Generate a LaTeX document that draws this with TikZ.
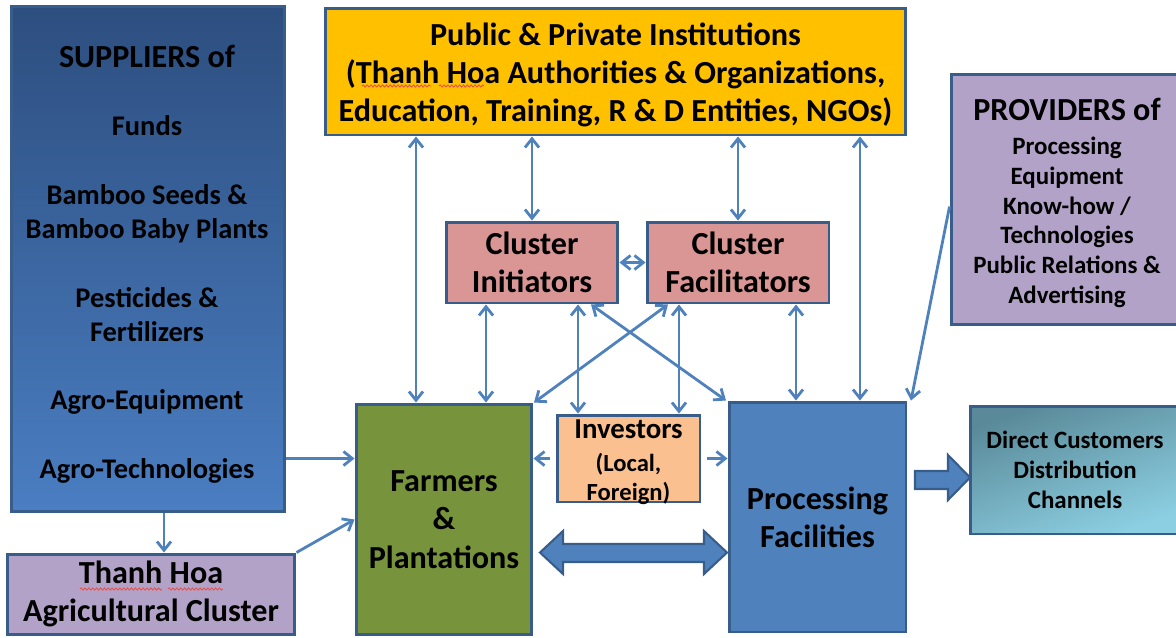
\documentclass[tikz,border=0pt]{standalone}
\usepackage{fontspec}
\setmainfont{Carlito}
\usetikzlibrary{arrows.meta,decorations.pathmorphing}
\definecolor{bord}{HTML}{385D8A}
\definecolor{arrowblue}{HTML}{4F81BD}
\definecolor{gold}{HTML}{FFC000}
\definecolor{rose}{HTML}{D99694}
\definecolor{lav}{HTML}{B3A2C7}
\definecolor{olive}{HTML}{77933C}
\definecolor{peach}{HTML}{FAC090}
\definecolor{procblue}{HTML}{4F81BD}
\definecolor{supdark}{HTML}{2D4E7F}
\definecolor{suplight}{HTML}{4A7EC2}
\definecolor{tealdark}{HTML}{5A8A99}
\definecolor{teallight}{HTML}{8CCFE2}
\definecolor{spell}{HTML}{E8504A}
\newcommand\fbig{\fontsize{18.3}{21.8}\selectfont}
\newcommand\fsup{\fontsize{16.2}{19.5}\selectfont}
\newcommand\fsmall{\fontsize{14.2}{17}\selectfont}
\begin{document}
\begin{tikzpicture}[x=0.02cm,y=-0.02cm,
  box/.style={draw=bord, line width=1.7pt, inner sep=0pt, align=center, font=\bfseries},
  txt/.style={align=center, inner sep=0pt},
  conn/.style={draw=arrowblue, line width=1.6pt, -{Straight Barb[length=5pt,width=8pt]}},
  dbl/.style={draw=arrowblue, line width=1.6pt, {Straight Barb[length=5pt,width=8pt]}-{Straight Barb[length=5pt,width=8pt]}},
  block/.style={draw=bord, line width=1.2pt, fill=procblue},
  squiggle/.style={draw=spell, line width=0.5pt, decorate, decoration={snake, segment length=2.2pt, amplitude=0.6pt}}]
\useasboundingbox (0,0) rectangle (1176,637);
% boxes
\node[box, top color=supdark, bottom color=suplight, minimum width=5.48cm, minimum height=10.12cm] (sup) at (148,259) {};
\node[txt, font=\bfseries\fsup] (suptext) at (147,264) {{\fbig SUPPLIERS of}\\[19.5pt]Funds\\[19.5pt]Bamboo Seeds \&\\Bamboo Baby Plants\\[19.5pt]Pesticides \&\\Fertilizers\\[19.5pt]Agro-Equipment\\[19.5pt]Agro-Technologies};
\node[box, fill=lav, minimum width=5.76cm, minimum height=1.6cm, font=\bfseries\fbig] (tha) at (151,594) {Thanh Hoa\\Agricultural Cluster};
\node[box, fill=gold, minimum width=11.62cm, minimum height=2.54cm] (pub) at (615.5,71.5) {};
\node[txt, font=\bfseries\fbig] (pubtext) at (615.5,75) {Public \& Private Institutions\\(Thanh Hoa Authorities \& Organizations,\\Education, Training, R \& D Entities, NGOs)};
\node[box, fill=rose, minimum width=3.44cm, minimum height=1.62cm, font=\bfseries\fbig] (ini) at (532,262.5) {Cluster\\Initiators};
\node[box, fill=rose, minimum width=3.64cm, minimum height=1.62cm, font=\bfseries\fbig] (fac) at (738,262.5) {Cluster\\Facilitators};
\node[box, fill=lav, minimum width=4.54cm, minimum height=5.02cm] (prov) at (1064.5,199.5) {};
\node[txt, font=\bfseries\fsmall] (provtext) at (1067,203) {{\fbig PROVIDERS of}\\[2.3pt]Processing\\Equipment\\Know-how /\\Technologies\\Public Relations \&\\Advertising};
\node[box, top color=tealdark, bottom color=teallight, shading angle=20, minimum width=4.2cm, minimum height=2.56cm, font=\bfseries\fsmall] (dir) at (1075,470) {Direct Customers\\Distribution\\Channels};
\node[box, fill=olive, minimum width=3.52cm, minimum height=4.62cm, font=\bfseries\fbig] (farm) at (444,519.5) {Farmers\\\&\\Plantations};
\node[box, fill=peach, minimum width=2.86cm, minimum height=1.74cm] (inv) at (628.5,458.5) {};
\node[txt, font=\bfseries\fontsize{14}{16.4}\selectfont] (invtext) at (628.5,462) {{\fontsize{16.4}{18}\selectfont Investors}\\[2.4pt](Local,\\Foreign)};
\node[box, fill=procblue, minimum width=3.54cm, minimum height=4.6cm, font=\bfseries\fbig] (proc) at (817.5,517) {Processing\\Facilities};
% spelling underlines
\draw[squiggle] (80,589) -- (162,589);
\draw[squiggle] (168,589) -- (223,589);
\draw[squiggle] (362,86) -- (431,86);
\draw[squiggle] (439,86) -- (484,86);
% helper coordinates
\coordinate (c416) at (416,0);
\coordinate (c860) at (860,0);
\coordinate (c486) at (486,0);
\coordinate (c578) at (578,0);
\coordinate (c679) at (679,0);
\coordinate (c796) at (796,0);
\coordinate (c590) at (591,0);
\coordinate (c668) at (668,0);
\coordinate (c726) at (726,0);
\coordinate (c533) at (534,0);
\coordinate (c164) at (164,0);
% connectors
\draw[dbl] (pub.south -| c416) -- (farm.north -| c416);
\draw[dbl] (pub.south -| ini.north) -- (ini.north);
\draw[dbl] (pub.south -| fac.north) -- (fac.north);
\draw[dbl] (pub.south -| c860) -- (proc.north -| c860);
\draw[dbl] (ini.east) -- (fac.west);
\draw[dbl] (ini.south -| c486) -- (farm.north -| c486);
\draw[dbl] (ini.south -| c578) -- (inv.north -| c578);
\draw[dbl] (fac.south -| c679) -- (inv.north -| c679);
\draw[dbl] (fac.south -| c796) -- (proc.north -| c796);
\draw[dbl] (ini.south -| c590) -- (proc.north -| c726);
\draw[dbl] (fac.south -| c668) -- (farm.north -| c533);
\draw[conn] (sup.east |- inv.west) -- (farm.west |- inv.west);
\draw[conn] (sup.south -| c164) -- (tha.north -| c164);
\draw[conn] (tha.north east) -- (farm.west);
\draw[conn] ([xshift=-3pt]inv.west) -- (farm.east |- inv.west);
\draw[conn] ([xshift=3pt]inv.east) -- (proc.west |- inv.east);
\draw[conn] ([yshift=-4pt]prov.west) -- ([xshift=2pt]proc.north east);
% block arrows
\draw[block] (540,552.5) -- (563,531) -- (563,544) -- (704,544) -- (704,531) -- (727,552.5) -- (704,574) -- (704,562) -- (563,562) -- (563,574) -- cycle;
\draw[block] (915,471) -- (948,471) -- (948,455) -- (970,477.5) -- (948,500) -- (948,489) -- (915,489) -- cycle;
\end{tikzpicture}
\end{document}
